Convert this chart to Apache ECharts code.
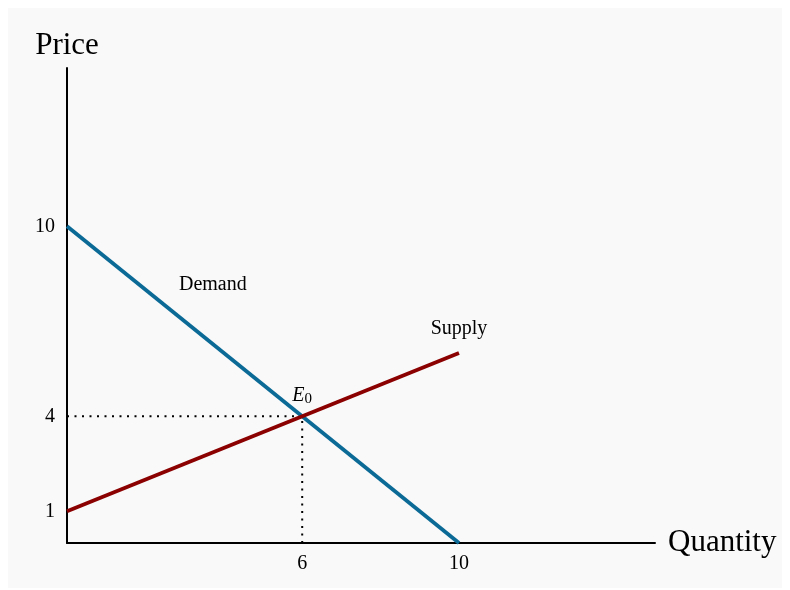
<!DOCTYPE html>
<html>
<head>
<meta charset="utf-8">
<script src="https://cdn.jsdelivr.net/npm/echarts@6/dist/echarts.min.js"></script>
<style>
html,body{margin:0;padding:0;background:#ffffff;}
#chart{width:790px;height:590px;}
</style>
</head>
<body>
<div id="chart"></div>
<script>
const demandQ = [0, 10];
const demandP = [10, 0];
const supplyQ = [0, 10];
const supplyP = [1, 6];
const eqQ = 6;
const eqP = 4;
const xTicks = [6, 10];
const yTicks = [1, 4, 10];
const axisMax = 15;
const labelDemand = [3.72, 8.14, 'Demand'];
const labelSupply = [10, 6.78, 'Supply'];
const labelEq = [6, 4.67, 'E0'];

const font = 'Liberation Serif, Times New Roman, serif';
const chart = echarts.init(document.getElementById('chart'), null, {renderer: 'canvas'});

function pairs(xs, ys) { return xs.map((x, i) => [x, ys[i]]); }

chart.setOption({
  backgroundColor: '#ffffff',
  animation: false,
  graphic: [{
    type: 'rect', z: -10, silent: true,
    shape: {x: 8, y: 8, width: 774, height: 580},
    style: {fill: '#f9f9f9'}
  }],
  grid: {left: 67, top: 68, right: 135, bottom: 47, containLabel: false},
  xAxis: {
    type: 'value', min: 0, max: axisMax,
    name: 'Quantity', nameLocation: 'end', nameGap: 13,
    nameTextStyle: {fontFamily: font, fontSize: 31, color: '#000', verticalAlign: 'middle'},
    axisLine: {show: true, lineStyle: {color: '#000', width: 2}},
    axisTick: {show: false},
    splitLine: {show: false},
    axisLabel: {customValues: xTicks, fontFamily: font, fontSize: 20, color: '#000', margin: 11}
  },
  yAxis: {
    type: 'value', min: 0, max: axisMax,
    name: 'Price', nameLocation: 'end', nameGap: 7,
    nameTextStyle: {fontFamily: font, fontSize: 31, color: '#000', align: 'center'},
    axisLine: {show: true, lineStyle: {color: '#000', width: 2}},
    axisTick: {show: false},
    splitLine: {show: false},
    axisLabel: {customValues: yTicks, fontFamily: font, fontSize: 20, color: '#000', margin: 12}
  },
  series: [
    {
      type: 'line', name: 'guideH', symbol: 'none', z: 1,
      data: [[0, eqP], [eqQ, eqP]],
      lineStyle: {color: '#000', width: 2, type: [2, 5.5]}
    },
    {
      type: 'line', name: 'guideV', symbol: 'none', z: 1,
      data: [[eqQ, 0], [eqQ, eqP]],
      lineStyle: {color: '#000', width: 2, type: [2, 5.5]}
    },
    {
      type: 'line', name: 'Demand', symbol: 'none', z: 2,
      data: pairs(demandQ, demandP),
      lineStyle: {color: '#0b6a96', width: 3.8}
    },
    {
      type: 'line', name: 'Supply', symbol: 'none', z: 3,
      data: pairs(supplyQ, supplyP),
      lineStyle: {color: '#8b0000', width: 3.8}
    },
    {
      type: 'scatter', symbolSize: 0, z: 4,
      itemStyle: {opacity: 1},
      data: [labelDemand, labelSupply, labelEq],
      label: {
        show: true, position: 'inside', opacity: 1,
        fontFamily: font, fontSize: 20, color: '#000',
        formatter: function (p) {
          if (p.data[2] === 'E0') return '{e|E}{s|0}';
          return p.data[2];
        },
        rich: {
          e: {fontFamily: font, fontSize: 20, fontStyle: 'italic', color: '#000', verticalAlign: 'bottom'},
          s: {fontFamily: font, fontSize: 15, color: '#000', verticalAlign: 'top', padding: [7, 0, 0, 0]}
        }
      }
    }
  ]
});
</script>
</body>
</html>
